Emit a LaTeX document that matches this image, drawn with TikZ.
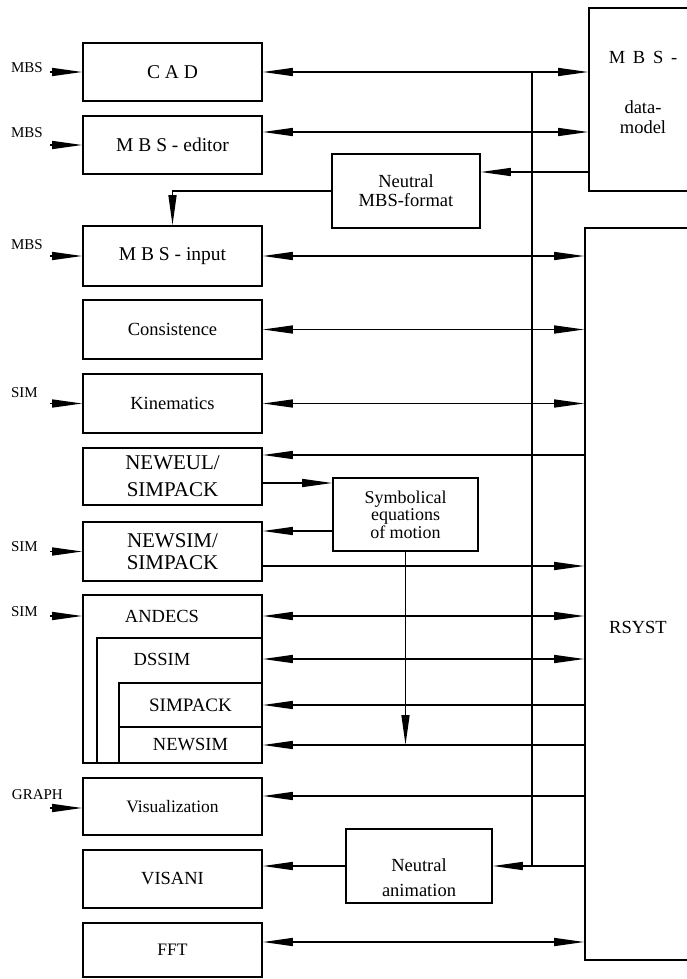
\documentclass[tikz,border=0pt]{standalone}
\usepackage{fontspec}
\setmainfont{Liberation Serif}
\usetikzlibrary{arrows.meta}
\tikzset{
  box/.style={draw, line width=1.6pt, minimum width=179pt, inner sep=0pt, align=center, font=\fontsize{18.5}{19}\selectfont},
  txt/.style={inner sep=0pt, align=center, font=\fontsize{18.5}{19}\selectfont},
  src/.style={inner sep=0pt, anchor=east, font=\fontsize{15}{15}\selectfont},
  lnk/.style={line width=1.4pt},
  one/.style={lnk, -{Triangle[length=30pt, width=8pt]}},
  both/.style={lnk, {Triangle[length=30pt, width=8pt]}-{Triangle[length=30pt, width=8pt]}},
}
\begin{document}
\begin{tikzpicture}[x=1pt, y=-1pt]
\path[use as bounding box] (0,0) rectangle (687,979);
\clip (0,0) rectangle (687,979);

% ---------------- left column ----------------
\node[box, minimum height=58pt, font=\fontsize{19.5}{20}\selectfont] (cad) at (172.5,72) {C A D};
\node[box, minimum height=58pt, font=\fontsize{19.5}{20}\selectfont] (edit) at (172.5,145) {M B S - editor};
\node[box, minimum height=60pt, font=\fontsize{19.5}{20}\selectfont] (inp) at (172.5,256) {M B S - input};
\node[box, minimum height=59pt] (cons) at (172.5,329.5) {Consistence};
\node[box, minimum height=59pt] (kin) at (172.5,403.5) {Kinematics};
\node[box, minimum height=57pt, font=\fontsize{21}{27}\selectfont] (neweul) at (172.5,476.5) {NEWEUL/\\SIMPACK};
\node[box, minimum height=59pt, font=\fontsize{21}{22}\selectfont] (newsim) at (172.5,551.5) {NEWSIM/\\SIMPACK};
% nested simulation packages
\node[box, minimum height=168pt] (andecs) at (172.5,679) {};
\node[box, minimum width=165pt, minimum height=125pt] (dssim) at (179.5,700.5) {};
\node[box, minimum width=143pt, minimum height=44pt, font=\fontsize{19}{20}\selectfont] (simpack) at (190.5,705) {SIMPACK};
\node[box, minimum width=143pt, minimum height=36pt] (newsimb) at (190.5,745) {NEWSIM};
\node[txt] (andecsT) at (162,616) {ANDECS};
\node[txt] (dssimT) at (162,659) {DSSIM};
\node[box, minimum height=57pt, font=\fontsize{17.5}{18}\selectfont] (vis) at (172.5,806.5) {Visualization};
\node[box, minimum height=58pt] (visani) at (172.5,879) {VISANI};
\node[box, minimum height=54pt, font=\fontsize{17.5}{18}\selectfont] (fft) at (172.5,950) {FFT};

% ---------------- middle ----------------
\node[box, minimum width=148pt, minimum height=74pt] (nmf) at (406,191) {Neutral\\MBS-format};
\node[box, minimum width=145pt, minimum height=73pt, font=\fontsize{18}{17.5}\selectfont] (sym) at (405.5,514.5) {Symbolical\\equations\\of motion};
\node[box, minimum width=146pt, minimum height=74pt,
      label={[txt, font=\fontsize{18.5}{25}\selectfont, yshift=-12pt]center:{Neutral\\animation}}] (nani) at (419,866) {};

% ---------------- right ----------------
\node[box, minimum width=151pt, minimum height=183pt] (dm) at (664.5,99.5) {};
\node[txt, font=\fontsize{18.5}{20}\selectfont] (dmT) at (643,92) {M\,\ B\,\ S\,\ -\\[30pt]data-\\model};
\node[box, minimum width=155pt, minimum height=732pt] (rs) at (662.5,594) {};
\node[txt] (rsT) at (638,627) {RSYST};

% inputs
\node[src] (l1) at (43,68) {MBS};
\node[src] (l2) at (43,133) {MBS};
\node[src] (l3) at (43,245) {MBS};
\node[src] (l4) at (38,393) {SIM};
\node[src] (l5) at (38,547) {SIM};
\node[src] (l6) at (38,612) {SIM};
\node[src] (l7) at (63,795) {GRAPH};
\draw[one] ([xshift=7pt]l1.east |- cad.west) -- (cad.west);
\draw[one] ([xshift=7pt]l2.east |- edit.west) -- (edit.west);
\draw[one] ([xshift=7pt]l3.east |- inp.west) -- (inp.west);
\draw[one] ([xshift=12pt]l4.east |- kin.west) -- (kin.west);
\draw[one] ([xshift=12pt]l5.east |- newsim.west) -- (newsim.west);
\draw[one] ([xshift=12pt]l6.east |- andecsT) -- (andecsT -| andecs.west);
\draw[one] ([xshift=-13pt,yshift=-1.5pt]l7.east |- vis.west) -- ([yshift=-1.5pt]vis.west);

% links to the data model and RSYST
\draw[both] (cad.east) -- (cad.east -| dm.west);
\draw[both] ([yshift=13pt]edit.east) -- ([yshift=13pt]edit.east -| dm.west);
\draw[one] ([yshift=19pt]nmf.east -| dm.west) -- ([yshift=19pt]nmf.east);
\draw[one] (nmf.west) -| (inp.north);
\draw[both] (inp.east) -- (inp.east -| rs.west);
\draw[both] (cons.east) -- (cons.east -| rs.west);
\draw[both] (kin.east) -- (kin.east -| rs.west);
\draw[one] ([yshift=21.5pt]neweul.east -| rs.west) -- ([yshift=21.5pt]neweul.east);
\draw[one] ([yshift=-6.5pt]neweul.east) -- ([yshift=-6.5pt]neweul.east -| sym.west);
\draw[one] ([yshift=-16.5pt]sym.west) -- ([yshift=-16.5pt]sym.west -| newsim.east);
\draw[one] ([yshift=-14.5pt]newsim.east) -- ([yshift=-14.5pt]newsim.east -| rs.west);
\draw[both] (andecsT -| andecs.east) -- (andecsT -| rs.west);
\draw[both] (dssimT -| dssim.east) -- (dssimT -| rs.west);
\draw[one] (simpack.east -| rs.west) -- (simpack.east);
\draw[one] (newsimb.east -| rs.west) -- (newsimb.east);
\draw[one] (sym.south) -- (sym.south |- newsimb.east);
\draw[one] ([yshift=10.5pt]vis.east -| rs.west) -- ([yshift=10.5pt]vis.east);
% branch to the animation
\coordinate (bus) at (532,72);
\draw[lnk] (bus) -- (bus |- nani.east);
\draw[one] (nani.east -| rs.west) -- (nani.east);
\draw[one] (nani.west) -- (nani.west -| visani.east);
\draw[both] ([yshift=8pt]fft.east) -- ([yshift=8pt]fft.east -| rs.west);
\end{tikzpicture}
\end{document}
